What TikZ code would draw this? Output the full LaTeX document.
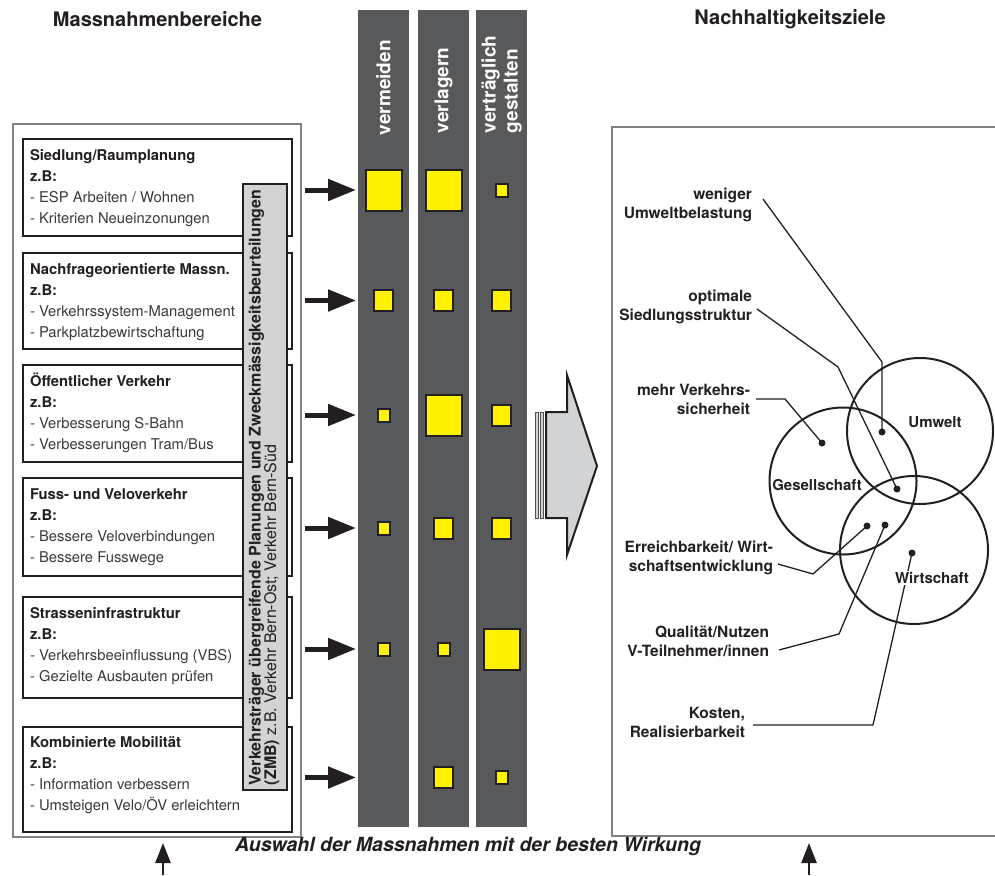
\documentclass[tikz,border=0pt]{standalone}
\usepackage{fontspec}
\setmainfont{TeX Gyre Heros}
\usetikzlibrary{arrows.meta}
\definecolor{ink}{HTML}{231F20}
\definecolor{colgray}{HTML}{58595B}
\definecolor{boxgray}{HTML}{808285}
\definecolor{lightfill}{HTML}{D1D3D4}
\definecolor{signal}{HTML}{FFF200}
\definecolor{itemgray}{HTML}{3A3A3A}

\newcommand{\areacontent}[3]{%
  \begin{tabular}[t]{@{}l@{}}
    \textbf{#1}\\
    \textbf{z.B:}\\
    \textcolor{itemgray}{- #2}\\
    \textcolor{itemgray}{- #3}
  \end{tabular}}
\newcommand{\goaltext}[2]{%
  \begin{tabular}[t]{@{}r@{}}#1\\#2\end{tabular}}

\begin{document}
\begin{tikzpicture}[x=1pt,y=-1pt,
  every node/.style={inner sep=0pt,outer sep=0pt},
  frame/.style={draw=boxgray,line width=2pt},
  areabox/.style={draw=ink,line width=2pt,fill=white,anchor=north west,minimum width=269pt},
  areatext/.style={anchor=base west,font=\fontsize{14.8}{21}\selectfont,text=ink},
  column/.style={fill=colgray,anchor=north west,minimum width=51pt,minimum height=817pt},
  colhead/.style={rotate=90,anchor=west,align=left,text=white,font=\fontsize{19}{22}\selectfont\bfseries},
  effect/.style={draw=ink,line width=2pt,fill=signal},
  large/.style={effect,minimum width=36pt,minimum height=41pt},
  medium/.style={effect,minimum width=19pt,minimum height=21pt},
  little/.style={effect,minimum width=12pt,minimum height=13pt},
  feed/.style={draw=ink,line width=5pt,-{Triangle[length=28pt,width=21pt]},shorten >=2pt},
  lift/.style={draw=ink,line width=2.5pt,-{Triangle[length=20pt,width=15pt]}},
  sphere/.style={draw=ink,line width=2pt},
  goal/.style={anchor=east,font=\fontsize{15.5}{19}\selectfont\bfseries,text=ink},
  leader/.style={draw=ink,line width=1.3pt,line join=round},
  dot/.style={circle,fill=ink,minimum size=7pt},
  spherelabel/.style={font=\fontsize{15}{18}\selectfont\bfseries,text=ink},
  heading/.style={font=\fontsize{20}{24}\selectfont\bfseries,text=ink},
]
\useasboundingbox (0,0) rectangle (995,875);

% headings
\node[heading] (h1) at (157.5,19.5) {Massnahmenbereiche};
\node[heading] (h2) at (790,19.5) {Nachhaltigkeitsziele};

% left frame with the six fields of measures
\node[frame,anchor=north west,minimum width=288pt,minimum height=713pt] (left) at (13,124) {};

\node[areabox,minimum height=97pt] (a1) at (23,139) {};
\node[areabox,minimum height=96pt] (a2) at (23,253) {};
\node[areabox,minimum height=97pt] (a3) at (23,365) {};
\node[areabox,minimum height=98pt] (a4) at (23,478) {};
\node[areabox,minimum height=101pt] (a5) at (23,597) {};
\node[areabox,minimum height=105pt] (a6) at (23,727) {};

\node[areatext] (t1) at (30,160) {\areacontent{Siedlung/Raumplanung}{ESP Arbeiten / Wohnen}{Kriterien Neueinzonungen}};
\node[areatext] (t2) at (30,274) {\areacontent{Nachfrageorientierte Massn.}{Verkehrssystem-Management}{Parkplatzbewirtschaftung}};
\node[areatext] (t3) at (30,386) {\areacontent{Öffentlicher Verkehr}{Verbesserung S-Bahn}{Verbesserungen Tram/Bus}};
\node[areatext] (t4) at (30,499) {\areacontent{Fuss- und Veloverkehr}{Bessere Veloverbindungen}{Bessere Fusswege}};
\node[areatext] (t5) at (30,618) {\areacontent{Strasseninfrastruktur}{Verkehrsbeeinflussung (VBS)}{Gezielte Ausbauten prüfen}};
\node[areatext] (t6) at (30,747) {\areacontent{Kombinierte Mobilität}{Information verbessern}{Umsteigen Velo/ÖV erleichtern}};

% vertical bar across the fields
\node[draw=ink,line width=1.5pt,fill=lightfill,anchor=north west,minimum width=44pt,minimum height=606pt] (zmb) at (243,184) {};
\node[rotate=90,anchor=west,align=left,text=ink,font=\fontsize{16}{15.5}\selectfont] (zmbtext) at (264,785)
  {\textbf{Verkehrsträger übergreifende Planungen und Zweckmässigkeitsbeurteilungen}\\
   \textbf{(ZMB)} z.B. Verkehr Bern-Ost; Verkehr Bern-Süd};

% strategy columns
\node[column] (c1) at (358,10) {};
\node[column] (c2) at (418,10) {};
\node[column] (c3) at (476,10) {};
\node[colhead] (v1) at (383.5,135) {vermeiden};
\node[colhead] (v2) at (443.5,133) {verlagern};
\node[colhead] (v3) at (501.5,133) {verträglich\\gestalten};

% rows
\coordinate (s1) at (305,190);
\coordinate (s2) at (305,300.5);
\coordinate (s3) at (305,415);
\coordinate (s4) at (305,528);
\coordinate (s5) at (305,649);
\coordinate (s6) at (305,777.5);
\foreach \r in {1,...,6} {\draw[feed] (s\r) -- (c1.west |- s\r);}

% effect squares
\node[large]  (q11) at (c1 |- s1) {};
\node[large]  (q12) at (c2 |- s1) {};
\node[little] (q13) at (c3 |- s1) {};
\node[medium] (q21) at (c1 |- s2) {};
\node[medium] (q22) at (c2 |- s2) {};
\node[medium] (q23) at (c3 |- s2) {};
\node[little] (q31) at (c1 |- s3) {};
\node[large]  (q32) at (c2 |- s3) {};
\node[medium] (q33) at (c3 |- s3) {};
\node[little] (q41) at (c1 |- s4) {};
\node[medium] (q42) at (c2 |- s4) {};
\node[medium] (q43) at (c3 |- s4) {};
\node[little] (q51) at (c1 |- s5) {};
\node[little] (q52) at (c2 |- s5) {};
\node[large]  (q53) at (c3 |- s5) {};
\node[medium] (q62) at (c2 |- s6) {};
\node[little] (q63) at (c3 |- s6) {};

% big transfer arrow
\filldraw[fill=lightfill,draw=ink!80,line width=0.6pt] (535,412) rectangle (538.5,518);
\filldraw[fill=lightfill,draw=ink!80,line width=0.6pt] (540,412) rectangle (543.5,518);
\filldraw[fill=lightfill,draw=ink,line width=2pt,line join=miter]
  (546,412) -- (567,412) -- (567,375) -- (597,466) -- (567,555) -- (567,518) -- (546,518) -- cycle;

% right frame
\draw[frame] (1000,127) -| (612,836) -- (1000,836);

% sustainability circles
\draw[sphere] (920,431) circle (73pt);
\draw[sphere] (843,481) circle (73.5pt);
\draw[sphere] (914,550) circle (74pt);

% goal points
\node[dot] (d1) at (882,432) {};
\node[dot] (d2) at (897,489) {};
\node[dot] (d3) at (822,443) {};
\node[dot] (d4) at (867,526) {};
\node[dot] (d5) at (885,525) {};
\node[dot] (d6) at (912,553) {};

% leader lines
\coordinate (e1) at (763,199);  \coordinate (k1) at (882,362);
\coordinate (e2) at (757,309);  \coordinate (k2) at (838,367);
\coordinate (e3) at (756,399);  \coordinate (k3) at (785,399);
\coordinate (e4) at (778,564);  \coordinate (k4) at (813,574);
\coordinate (e5) at (779,650);  \coordinate (k5) at (839,634);
\coordinate (e6) at (753,725);  \coordinate (k6) at (873,725);
\draw[leader] (e1) -- (k1) -- (d1.center);
\draw[leader] (e2) -- (k2) -- (d2.center);
\draw[leader] (e3) -- (k3) -- (d3.center);
\draw[leader] (e4) -- (k4) -- (d4.center);
\draw[leader] (e5) -- (k5) -- (d5.center);
\draw[leader] (e6) -- (k6) -- (d6.center);

% circle labels
\node[spherelabel] (umw) at (935,422) {Umwelt};
\node[spherelabel] (ges) at (817,485) {Gesellschaft};
\node[spherelabel,fill=white,inner sep=1.5pt] (wir) at (932,578) {Wirtschaft};

% goal labels
\node[goal] (g1) at (752,205) {\goaltext{weniger}{Umweltbelastung}};
\node[goal] (g2) at (752,307.5) {\goaltext{optimale}{Siedlungsstruktur}};
\node[goal] (g3) at (750,401.5) {\goaltext{mehr Verkehrs-}{sicherheit}};
\node[goal] (g4) at (773,558) {\goaltext{Erreichbarkeit/ Wirt-}{schaftsentwicklung}};
\node[goal] (g5) at (769,643) {\goaltext{Qualität/Nutzen}{V-Teilnehmer/innen}};
\node[goal] (g6) at (745,724.5) {\goaltext{Kosten,}{Realisierbarkeit}};

% bottom caption and arrows
\node[font=\fontsize{19.5}{22}\selectfont\bfseries\itshape,text=ink] (cap) at (468,846) {Auswahl der Massnahmen mit der besten Wirkung};
\coordinate (b1) at (163,875); \coordinate (b1t) at (163,843);
\coordinate (b2) at (809,875); \coordinate (b2t) at (809,843);
\draw[lift] (b1) -- (b1t);
\draw[lift] (b2) -- (b2t);
\end{tikzpicture}
\end{document}
